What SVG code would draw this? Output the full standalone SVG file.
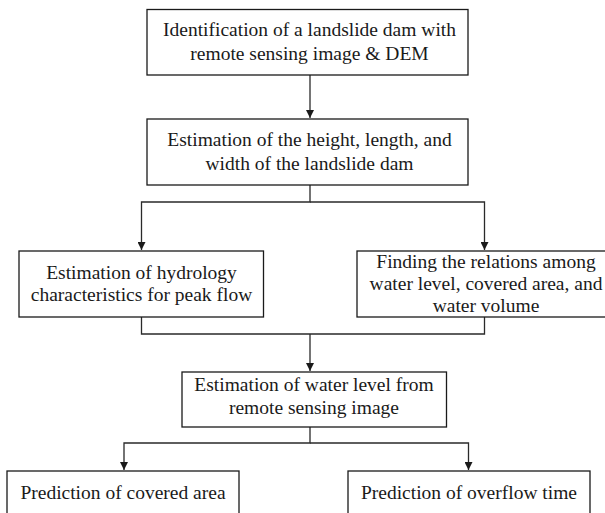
<svg xmlns="http://www.w3.org/2000/svg" width="605" height="513" viewBox="0 0 605 513">
<style>
.box{fill:#fff;stroke:#1a1a1a;stroke-width:1.3}
.t{font-family:"Liberation Serif","Times New Roman",serif;font-size:19.5px;fill:#1a1a1a;text-anchor:middle}
.c{fill:none;stroke:#2a2a2a;stroke-width:1.3}
</style>
<defs>
<marker id="ah" viewBox="0 0 10 10" refX="10" refY="5" markerWidth="8" markerHeight="8" markerUnits="userSpaceOnUse" orient="auto">
<path d="M0,0 L10,5 L0,10 z" fill="#1a1a1a"/>
</marker>
</defs>
<rect width="605" height="513" fill="#fff"/>
<g id="connectors">
<path class="c" d="M310,75 V118" marker-end="url(#ah)"/>
<path class="c" d="M310,185 V202 H141.5 V250" marker-end="url(#ah)"/>
<path class="c" d="M310,202 H484.5 V250" marker-end="url(#ah)"/>
<path class="c" d="M141.5,317 V334 H484.5 V317"/>
<path class="c" d="M310,334 V371" marker-end="url(#ah)"/>
<path class="c" d="M310,427 V443 H124 V470" marker-end="url(#ah)"/>
<path class="c" d="M310,443 H468.5 V470" marker-end="url(#ah)"/>
</g>
<g id="n1">
<rect class="box" x="147" y="9.5" width="321" height="65.5"/>
<text class="t" x="309.5" y="35.5">Identification of a landslide dam with</text>
<text class="t" x="309.5" y="59.5">remote sensing image &amp; DEM</text>
</g>
<g id="n2">
<rect class="box" x="147" y="119" width="321" height="66"/>
<text class="t" x="309.5" y="145.5">Estimation of the height, length, and</text>
<text class="t" x="309.5" y="169.5">width of the landslide dam</text>
</g>
<g id="n3">
<rect class="box" x="19" y="251" width="244.5" height="66"/>
<text class="t" x="141.5" y="279">Estimation of hydrology</text>
<text class="t" x="141.5" y="301">characteristics for peak flow</text>
</g>
<g id="n4">
<rect class="box" x="357" y="251" width="258" height="66"/>
<text class="t" x="486" y="268">Finding the relations among</text>
<text class="t" x="486" y="290">water level, covered area, and</text>
<text class="t" x="486" y="312">water volume</text>
</g>
<g id="n5">
<rect class="box" x="182" y="372" width="264.5" height="55"/>
<text class="t" x="314" y="391">Estimation of water level from</text>
<text class="t" x="314" y="414">remote sensing image</text>
</g>
<g id="n6">
<rect class="box" x="7" y="471" width="232" height="60"/>
<text class="t" x="123" y="499">Prediction of covered area</text>
</g>
<g id="n7">
<rect class="box" x="348" y="471" width="242" height="60"/>
<text class="t" x="469" y="499">Prediction of overflow time</text>
</g>
</svg>
